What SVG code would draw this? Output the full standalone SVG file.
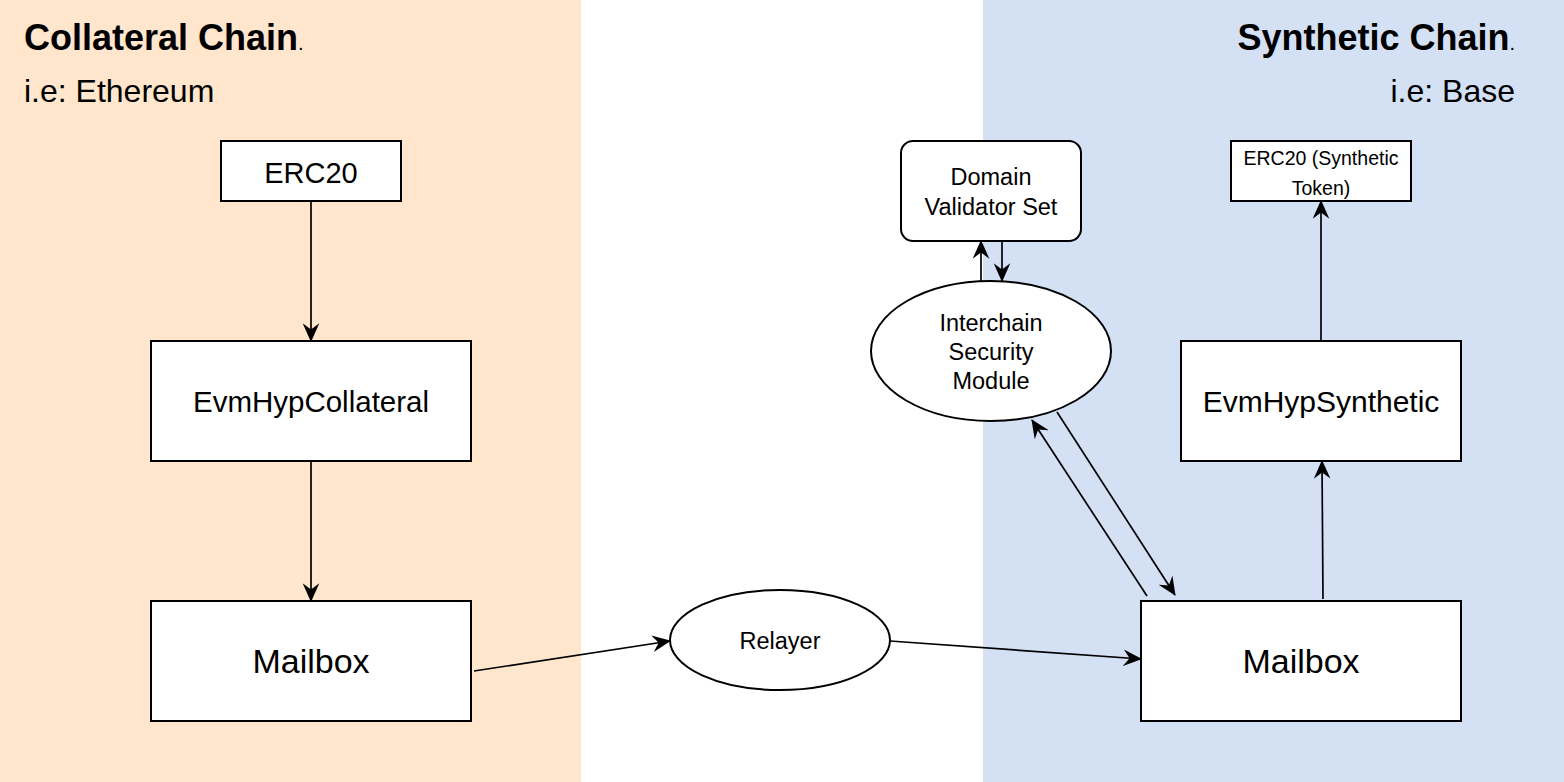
<svg xmlns="http://www.w3.org/2000/svg" width="1564" height="782" viewBox="0 0 1564 782">
<defs>
<marker id="arr" markerWidth="11" markerHeight="10" viewBox="0 0 18 16" refX="17" refY="8" orient="auto">
<path d="M0,0 L18,8 L0,16 L6,8 z" fill="#000"/>
</marker>
<style>
.box{fill:#fff;stroke:#000;stroke-width:2}
.t{font-family:"Liberation Sans",Arial,sans-serif;fill:#000;text-anchor:middle}
.c{fill:none;stroke:#000;stroke-width:1.7;marker-end:url(#arr)}
</style>
</defs>
<rect width="1564" height="782" fill="#fff"/>
<g id="collateral-zone">
<rect x="0" y="0" width="581" height="782" fill="#FFE6CC"/>
<text x="24" y="50" font-family="Liberation Sans,Arial,sans-serif" font-size="36" font-weight="bold">Collateral Chain<tspan font-weight="normal" font-size="20">.</tspan></text>
<text x="24" y="102" font-family="Liberation Sans,Arial,sans-serif" font-size="32">i.e: Ethereum</text>
</g>
<g id="synthetic-zone">
<rect x="983" y="0" width="581" height="782" fill="#D4E1F5"/>
<text x="1515" y="50" text-anchor="end" font-family="Liberation Sans,Arial,sans-serif" font-size="36" font-weight="bold">Synthetic Chain<tspan font-weight="normal" font-size="20">.</tspan></text>
<text x="1515" y="102" text-anchor="end" font-family="Liberation Sans,Arial,sans-serif" font-size="32">i.e: Base</text>
</g>
<g id="connectors">
<line class="c" x1="311" y1="201" x2="311" y2="341"/>
<line class="c" x1="311" y1="461" x2="311" y2="601"/>
<line class="c" x1="474" y1="671" x2="670" y2="641"/>
<line class="c" x1="890" y1="641" x2="1141" y2="659"/>
<line class="c" x1="1147" y1="596" x2="1032" y2="420"/>
<line class="c" x1="1057" y1="412" x2="1175" y2="595"/>
<line class="c" x1="1323" y1="599" x2="1322" y2="461"/>
<line class="c" x1="1321" y1="341" x2="1321" y2="201"/>
<line class="c" x1="981" y1="281" x2="981" y2="241"/>
<line class="c" x1="1002" y1="241" x2="1002" y2="281"/>
</g>
<g id="erc20">
<rect class="box" x="221" y="141" width="180" height="60"/>
<text class="t" x="311" y="182.5" font-size="29">ERC20</text>
</g>
<g id="evmhypcollateral">
<rect class="box" x="151" y="341" width="320" height="120"/>
<text class="t" x="311" y="412" font-size="29.5">EvmHypCollateral</text>
</g>
<g id="mailbox-left">
<rect class="box" x="151" y="601" width="320" height="120"/>
<text class="t" x="311" y="673" font-size="34">Mailbox</text>
</g>
<g id="relayer">
<ellipse class="box" cx="780" cy="640" rx="110" ry="50"/>
<text class="t" x="780" y="648.5" font-size="23.5">Relayer</text>
</g>
<g id="mailbox-right">
<rect class="box" x="1141" y="601" width="320" height="120"/>
<text class="t" x="1301" y="673" font-size="34">Mailbox</text>
</g>
<g id="evmhypsynthetic">
<rect class="box" x="1181" y="341" width="280" height="120"/>
<text class="t" x="1321" y="412" font-size="30">EvmHypSynthetic</text>
</g>
<g id="erc20-synthetic">
<rect class="box" x="1231" y="141" width="180" height="60"/>
<text class="t" x="1321" y="165" font-size="19.5">ERC20 (Synthetic</text>
<text class="t" x="1321" y="194.5" font-size="19.5">Token)</text>
</g>
<g id="domain-validator-set">
<rect class="box" x="901" y="141" width="180" height="100" rx="12" ry="12"/>
<text class="t" x="991" y="184.5" font-size="23.5">Domain</text>
<text class="t" x="991" y="214.5" font-size="23.5">Validator Set</text>
</g>
<g id="ism">
<ellipse class="box" cx="991" cy="351" rx="120" ry="70"/>
<text class="t" x="991" y="330.5" font-size="23.5">Interchain</text>
<text class="t" x="991" y="359.5" font-size="23.5">Security</text>
<text class="t" x="991" y="388.5" font-size="23.5">Module</text>
</g>
</svg>
